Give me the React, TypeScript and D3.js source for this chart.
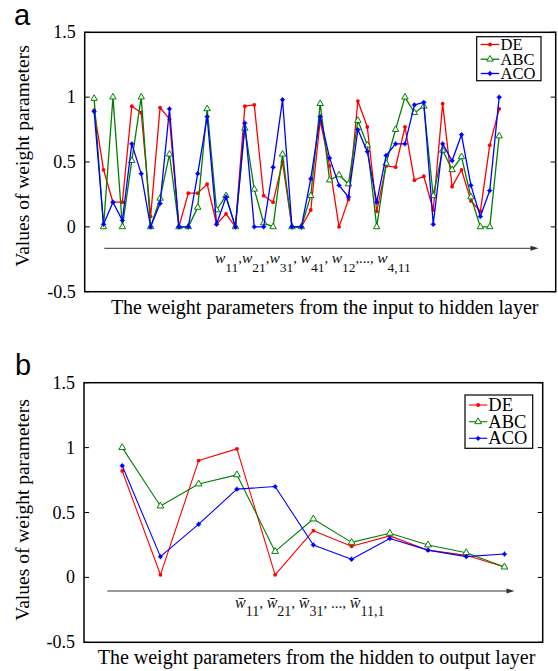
import React from 'react';
import * as d3 from 'd3';

// ---------- Data ----------
const topIndex = d3.range(1, 45); // 44 input->hidden weights
const topDE = [0.90, 0.44, 0.19, 0.19, 0.93, 0.88, 0.08, 0.92, 0.83, 0.0, 0.26, 0.26, 0.33, 0.02, 0.10, 0.0,
  0.93, 0.94, 0.24, 0.19, 0.50, 0.0, 0.0, 0.13, 0.82, 0.47, 0.0, 0.21, 0.97, 0.77, 0.12, 0.47,
  0.46, 0.77, 0.36, 0.39, 0.13, 0.95, 0.31, 0.44, 0.20, 0.12, 0.63, 0.91];
const topABC = [0.99, 0.0, 1.0, 0.0, 0.51, 1.0, 0.0, 0.22, 0.56, 0.0, 0.0, 0.15, 0.91, 0.13, 0.24, 0.0,
  0.76, 0.29, 0.03, 0.0, 0.56, 0.0, 0.0, 0.24, 0.95, 0.36, 0.40, 0.33, 0.82, 0.63, 0.0, 0.49,
  0.75, 1.0, 0.88, 0.93, 0.24, 0.59, 0.44, 0.54, 0.23, 0.0, 0.0, 0.70];
const topACO = [0.89, 0.02, 0.19, 0.05, 0.64, 0.41, 0.0, 0.18, 0.91, 0.0, 0.0, 0.41, 0.85, 0.02, 0.23, 0.0,
  0.80, 0.0, 0.0, 0.46, 0.98, 0.0, 0.0, 0.37, 0.85, 0.53, 0.32, 0.23, 0.75, 0.58, 0.19, 0.55,
  0.64, 0.64, 0.94, 0.96, 0.02, 0.64, 0.51, 0.71, 0.32, 0.08, 0.28, 1.0];

const botIndex = d3.range(1, 12); // 11 hidden->output weights
const botDE = [0.82, 0.02, 0.90, 0.99, 0.02, 0.36, 0.24, 0.32, 0.21, 0.17, 0.08];
const botABC = [1.0, 0.55, 0.72, 0.79, 0.20, 0.45, 0.27, 0.34, 0.25, 0.19, 0.08];
const botACO = [0.86, 0.16, 0.41, 0.68, 0.70, 0.25, 0.14, 0.30, 0.21, 0.16, 0.18];

const yTicks = [-0.5, 0, 0.5, 1, 1.5];
const yTickLabels = ['-0.5', '0', '0.5', '1', '1.5'];
const seriesNames = ['DE', 'ABC', 'ACO'];
const seriesColors = ['#ff0000', '#008000', '#0000ff'];
const seriesMarkers = ['dot', 'triangle', 'star'];

const SERIF = '"Liberation Serif", "Times New Roman", serif';
const SANS = '"Liberation Sans", Arial, sans-serif';

type PanelProps = {
  id: string;
  letter: string;
  letterPos: [number, number];
  box: { x0: number; x1: number; y0: number; y1: number };
  xDomain: [number, number];
  index: number[];
  series: number[][];
  lineWidth: number;
  triSize: number;
  dotR: number;
  legend: { x: number; y: number; w: number; h: number; rows: number[]; lx0: number; lx1: number; tx: number; fs: number };
  arrow: { x0: number; x1: number; y: number };
  xLabel: string;
  xLabelPos: [number, number];
  yLabelPos: [number, number];
  sub: React.ReactNode;
};

function Marker({ kind, x, y, color, triSize, dotR }: any) {
  if (kind === 'triangle') {
    const p = d3.symbol(d3.symbolTriangle, triSize)();
    return <path d={p || ''} transform={`translate(${x},${y})`} fill="white" stroke={color} strokeWidth={1} />;
  }
  if (kind === 'star') {
    return <g>
      <circle cx={x} cy={y} r={dotR} fill={color} />
      <path d={`M${x - dotR - 0.8},${y}H${x + dotR + 0.8}M${x},${y - dotR - 0.8}V${y + dotR + 0.8}`} stroke={color} strokeWidth={0.8} />
    </g>;
  }
  return <circle cx={x} cy={y} r={dotR} fill={color} />;
}

function Panel(p: PanelProps) {
  const { box } = p;
  const x = d3.scaleLinear().domain(p.xDomain).range([box.x0, box.x1]);
  const y = d3.scaleLinear().domain([-0.5, 1.5]).range([box.y1, box.y0]);
  const line = d3.line<number>().x((_, i) => x(p.index[i])).y((d) => y(d));
  return (
    <g>
      <text x={p.letterPos[0]} y={p.letterPos[1]} fontFamily={SANS} fontSize={29}>{p.letter}</text>
      {p.series.map((s, si) => (
        <g key={si}>
          <path d={line(s) || ''} fill="none" stroke={seriesColors[si]} strokeWidth={p.lineWidth} strokeLinejoin="round" />
          {s.map((v, i) => (
            <Marker key={i} kind={seriesMarkers[si]} x={x(p.index[i])} y={y(v)} color={seriesColors[si]} triSize={p.triSize} dotR={p.dotR} />
          ))}
        </g>
      ))}
      <rect x={box.x0} y={box.y0} width={box.x1 - box.x0} height={box.y1 - box.y0} fill="none" stroke="black" strokeWidth={1.5} />
      {yTicks.map((t, i) => (
        <g key={i}>
          <line x1={box.x0} x2={box.x0 + 5} y1={y(t)} y2={y(t)} stroke="black" strokeWidth={1} />
          <line x1={box.x1} x2={box.x1 - 5} y1={y(t)} y2={y(t)} stroke="black" strokeWidth={1} />
          <text x={box.x0 - 9} y={y(t) + 6} textAnchor="end" fontFamily={SERIF} fontSize={18}>{yTickLabels[i]}</text>
        </g>
      ))}
      <line x1={p.arrow.x0} x2={p.arrow.x1 - 6} y1={p.arrow.y} y2={p.arrow.y} stroke="#333" strokeWidth={1} />
      <path d={`M${p.arrow.x1},${p.arrow.y}L${p.arrow.x1 - 8},${p.arrow.y - 2.5}L${p.arrow.x1 - 8},${p.arrow.y + 2.5}Z`} fill="#333" />
      {p.sub}
      <rect x={p.legend.x} y={p.legend.y} width={p.legend.w} height={p.legend.h} fill="white" stroke="black" strokeWidth={1.2} />
      {seriesNames.map((n, si) => (
        <g key={n}>
          <line x1={p.legend.lx0} x2={p.legend.lx1} y1={p.legend.rows[si]} y2={p.legend.rows[si]} stroke={seriesColors[si]} strokeWidth={p.lineWidth} />
          <Marker kind={seriesMarkers[si]} x={(p.legend.lx0 + p.legend.lx1) / 2} y={p.legend.rows[si]} color={seriesColors[si]} triSize={p.triSize} dotR={p.dotR} />
          <text x={p.legend.tx} y={p.legend.rows[si] + p.legend.fs * 0.33} fontFamily={SERIF} fontSize={p.legend.fs}>{n}</text>
        </g>
      ))}
      <text x={p.xLabelPos[0]} y={p.xLabelPos[1]} textAnchor="middle" fontFamily={SERIF} fontSize={20}>{p.xLabel}</text>
      <text transform={`translate(${p.yLabelPos[0]},${p.yLabelPos[1]}) rotate(-90)`} textAnchor="middle" fontFamily={SERIF} fontSize={19.5}>Values of weight parameters</text>
    </g>
  );
}

function SubTop() {
  const W = (k: string, sub: string, tail: string) => [
    <tspan key={k + 'w'} fontStyle="italic" fontSize={15.5}>w</tspan>,
    <tspan key={k + 's'} fontSize={13.5} dy={9}>{sub}</tspan>,
    <tspan key={k + 't'} fontSize={14.5} dy={-9}>{tail}</tspan>,
  ];
  return (
    <text x={215} y={262.5} fontFamily={SERIF} fill="#111">
      {W('a', '11', ',')}{W('b', '21', ',')}{W('c', '31', ', ')}{W('d', '41', ', ')}{W('e', '12', ',..., ')}{W('f', '4,11', '')}
    </text>
  );
}

function SubBot() {
  const W = (k: string, sub: string, tail: string) => [
    <tspan key={k + 'w'} fontStyle="italic" fontSize={16}>{'w\u0304'}</tspan>,
    <tspan key={k + 's'} fontSize={14} dy={8.5}>{sub}</tspan>,
    <tspan key={k + 't'} fontSize={15} dy={-8.5}>{tail}</tspan>,
  ];
  return (
    <text x={235} y={607.5} fontFamily={SERIF} fill="#111">
      {W('a', '11', ', ')}{W('b', '21', ', ')}{W('c', '31', ', ..., ')}{W('d', '11,1', '')}
    </text>
  );
}

export default function App() {
  return (
    <svg width={558} height={671} style={{ position: 'absolute', left: 0, top: 0, background: 'white' }}>
      <rect x={0} y={0} width={558} height={671} fill="white" />
      <Panel
        id="a"
        letter="a"
        letterPos={[14, 25]}
        box={{ x0: 84.7, x1: 555.7, y0: 32.3, y1: 291.7 }}
        xDomain={[0, 50]}
        index={topIndex}
        series={[topDE, topABC, topACO]}
        lineWidth={1.3}
        triSize={18}
        dotR={1.9}
        legend={{ x: 476.7, y: 36.7, w: 64.3, h: 44, rows: [44.5, 59.2, 73.5], lx0: 480.7, lx1: 499.3, tx: 500.5, fs: 16.5 }}
        arrow={{ x0: 104.3, x1: 538.5, y: 248.3 }}
        xLabel="The weight parameters from the input to hidden layer"
        xLabelPos={[324.7, 314]}
        yLabelPos={[29, 156]}
        sub={<SubTop />}
      />
      <Panel
        id="b"
        letter="b"
        letterPos={[15, 375]}
        box={{ x0: 84, x1: 542.7, y0: 382.7, y1: 642.3 }}
        xDomain={[0, 12]}
        index={botIndex}
        series={[botDE, botABC, botACO]}
        lineWidth={1.1}
        triSize={20}
        dotR={1.9}
        legend={{ x: 465, y: 395, w: 67.7, h: 53.3, rows: [405, 421.7, 438.3], lx0: 469, lx1: 487.3, tx: 488.3, fs: 18.5 }}
        arrow={{ x0: 107.3, x1: 514.5, y: 591 }}
        xLabel="The weight parameters from the hidden to output layer"
        xLabelPos={[316.5, 664]}
        yLabelPos={[29, 510]}
        sub={<SubBot />}
      />
    </svg>
  );
}
